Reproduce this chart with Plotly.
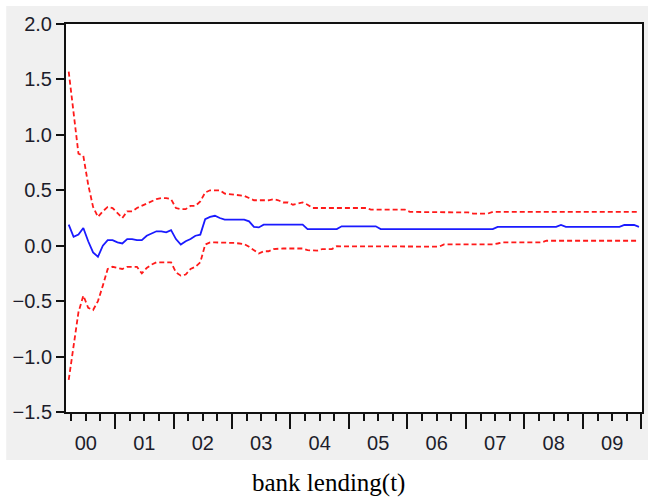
import plotly.graph_objects as go

# Monthly sample: first observation 2000M03
start_year, start_month = 2000, 3

# Recursive coefficient estimate and its +/- 2 S.E. band
coef = [
    0.19, 0.08, 0.10, 0.16, 0.04, -0.06, -0.10, 0.00, 0.05, 0.05,
    0.03, 0.02, 0.06, 0.06, 0.05, 0.05, 0.09, 0.11, 0.13, 0.13,
    0.12, 0.14, 0.06, 0.01, 0.04, 0.06, 0.09, 0.10, 0.24, 0.26,
    0.27, 0.25, 0.235, 0.235, 0.235, 0.235, 0.235, 0.22, 0.17, 0.165,
    0.19, 0.19, 0.19, 0.19, 0.19, 0.19, 0.19, 0.19, 0.19, 0.15,
    0.15, 0.15, 0.15, 0.15, 0.15, 0.15, 0.175, 0.175, 0.175, 0.175,
    0.175, 0.175, 0.175, 0.175, 0.15, 0.15, 0.15, 0.15, 0.15, 0.15,
    0.15, 0.15, 0.15, 0.15, 0.15, 0.15, 0.15, 0.15, 0.15, 0.15,
    0.15, 0.15, 0.15, 0.15, 0.15, 0.15, 0.15, 0.15, 0.17, 0.17,
    0.17, 0.17, 0.17, 0.17, 0.17, 0.17, 0.17, 0.17, 0.17, 0.17,
    0.17, 0.187, 0.17, 0.17, 0.17, 0.17, 0.17, 0.17, 0.17, 0.17,
    0.17, 0.17, 0.17, 0.17, 0.187, 0.187, 0.187, 0.17,
]

upper = [
    1.57, 1.20, 0.83, 0.81, 0.55, 0.35, 0.26, 0.31, 0.35, 0.34,
    0.29, 0.25, 0.31, 0.31, 0.34, 0.36, 0.38, 0.40, 0.42, 0.43,
    0.43, 0.42, 0.34, 0.33, 0.33, 0.36, 0.36, 0.40, 0.48, 0.50,
    0.50, 0.50, 0.47, 0.465, 0.46, 0.45, 0.45, 0.43, 0.41, 0.41,
    0.41, 0.41, 0.42, 0.41, 0.39, 0.39, 0.37, 0.38, 0.39, 0.37,
    0.34, 0.34, 0.34, 0.34, 0.34, 0.34, 0.34, 0.34, 0.34, 0.34,
    0.34, 0.34, 0.325, 0.325, 0.325, 0.325, 0.325, 0.325, 0.325, 0.325,
    0.305, 0.305, 0.305, 0.305, 0.305, 0.305, 0.305, 0.305, 0.305, 0.305,
    0.305, 0.305, 0.30, 0.29, 0.29, 0.29, 0.29, 0.305, 0.305, 0.305,
    0.305, 0.305, 0.305, 0.305, 0.305, 0.305, 0.305, 0.305, 0.305, 0.305,
    0.305, 0.305, 0.305, 0.305, 0.305, 0.305, 0.305, 0.305, 0.305, 0.305,
    0.305, 0.305, 0.305, 0.305, 0.305, 0.305, 0.305, 0.305,
]

lower = [
    -1.21, -0.90, -0.60, -0.45, -0.56, -0.58, -0.50, -0.36, -0.21, -0.19,
    -0.20, -0.21, -0.19, -0.19, -0.19, -0.25, -0.20, -0.17, -0.15, -0.15,
    -0.15, -0.15, -0.24, -0.27, -0.26, -0.21, -0.19, -0.15, 0.01, 0.03,
    0.03, 0.03, 0.025, 0.025, 0.025, 0.02, 0.015, -0.01, -0.04, -0.07,
    -0.05, -0.05, -0.03, -0.025, -0.025, -0.025, -0.025, -0.025, -0.025, -0.04,
    -0.045, -0.045, -0.03, -0.03, -0.03, -0.005, -0.005, -0.005, -0.005, -0.005,
    -0.005, -0.005, -0.005, -0.005, -0.005, -0.005, -0.005, -0.005, -0.005, -0.005,
    -0.005, -0.005, -0.005, -0.005, -0.005, -0.005, -0.008, 0.012, 0.012, 0.012,
    0.012, 0.012, 0.012, 0.012, 0.012, 0.012, 0.012, 0.012, 0.02, 0.03,
    0.03, 0.03, 0.03, 0.03, 0.03, 0.03, 0.03, 0.03, 0.045, 0.045,
    0.045, 0.045, 0.045, 0.045, 0.045, 0.045, 0.045, 0.045, 0.045, 0.045,
    0.045, 0.045, 0.045, 0.045, 0.045, 0.045, 0.045, 0.045,
]

year_labels = ["00", "01", "02", "03", "04", "05", "06", "07", "08", "09"]
y_ticks = [-1.5, -1.0, -0.5, 0.0, 0.5, 1.0, 1.5, 2.0]

# Observation dates as fractional years (mid-month)
n = len(coef)
t = [start_year + (start_month - 1 + k + 0.5) / 12 for k in range(n)]

first_year = start_year
n_years = len(year_labels)
year_bounds = [first_year + k for k in range(n_years + 1)]
year_mids = [first_year + k + 0.5 for k in range(n_years)]
quarters = [first_year + q / 4 for q in range(4 * n_years + 1)]

x_range = [2000.162, 2010.01]

label_font = dict(family="Liberation Sans, Arial, sans-serif", size=20, color="#1d1d2b")
red = "#ff1a1a"
blue = "#1a1aff"

fig = go.Figure()
fig.add_trace(go.Scatter(x=t, y=upper, mode="lines",
                         line=dict(color=red, width=1.8, dash="5px,3px"),
                         hoverinfo="skip", showlegend=False))
fig.add_trace(go.Scatter(x=t, y=lower, mode="lines",
                         line=dict(color=red, width=1.8, dash="5px,3px"),
                         hoverinfo="skip", showlegend=False))
fig.add_trace(go.Scatter(x=t, y=coef, mode="lines", xaxis="x2",
                         line=dict(color=blue, width=1.8),
                         hoverinfo="skip", showlegend=False))

fig.update_layout(
    width=650, height=498,
    margin=dict(l=66, r=6, t=24, b=86),
    paper_bgcolor="white",
    plot_bgcolor="white",
    font=label_font,
    xaxis=dict(
        range=x_range, showgrid=False, zeroline=False,
        showline=True, mirror=True, linecolor="#111", linewidth=2,
        tickmode="array", tickvals=year_bounds, showticklabels=False,
        ticks="outside", ticklen=15, tickwidth=1.6, tickcolor="#111",
        minor=dict(tickmode="array", tickvals=quarters, ticks="outside",
                   ticklen=7, tickwidth=1.6, tickcolor="#111", showgrid=False),
    ),
    xaxis2=dict(
        range=x_range, overlaying="x", side="bottom", anchor="y",
        showgrid=False, zeroline=False, showline=False,
        tickmode="array", tickvals=year_mids, ticktext=year_labels,
        ticks="outside", ticklen=13, tickcolor="rgba(0,0,0,0)",
        tickfont=label_font,
    ),
    yaxis=dict(
        range=[-1.5, 2.0], showgrid=False, zeroline=False,
        showline=True, mirror=True, linecolor="#111", linewidth=2,
        tickmode="array", tickvals=y_ticks, tickformat=".1f",
        ticks="outside", ticklen=8, tickwidth=1.6, tickcolor="#111",
        tickfont=label_font,
    ),
    shapes=[
        # light grey chart panel
        dict(type="rect", xref="paper", yref="paper", layer="below",
             x0=-0.1038, x1=1.0104, y0=-0.1237, y1=1.0464,
             fillcolor="#f0f0f0", line=dict(width=0)),
        # white plotting area on top of the panel
        dict(type="rect", xref="x domain", yref="y domain", layer="below",
             x0=0, x1=1, y0=0, y1=1,
             fillcolor="white", line=dict(width=0)),
    ],
    annotations=[
        dict(text="bank lending(t)", xref="paper", yref="paper",
             x=0.455, y=-0.2216, xanchor="center", yanchor="bottom",
             showarrow=False, borderpad=0,
             font=dict(family="Liberation Serif, Times New Roman, serif",
                       size=25, color="black")),
    ],
)

fig.write_html("out.html")
